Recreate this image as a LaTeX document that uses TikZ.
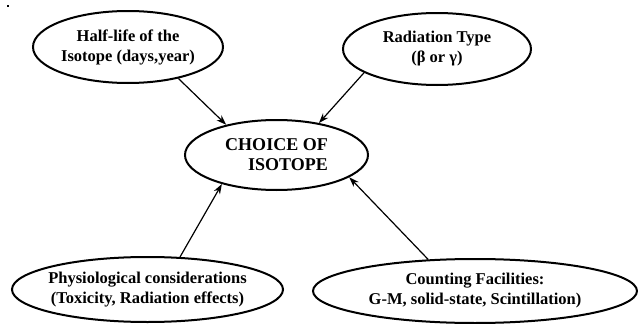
\documentclass[tikz,border=0pt]{standalone}
\usepackage{fontspec}
\setmainfont{Liberation Serif}
\usetikzlibrary{shapes.geometric,arrows.meta}
\tikzset{
	factor/.style={ellipse, draw, line width=2pt, inner sep=0pt, align=center, font=\fontsize{16.5}{20}\selectfont\bfseries},
	link/.style={-{Stealth[length=10pt,width=7pt]}, line width=1.2pt}
}
\begin{document}
\begin{tikzpicture}[x=1pt,y=-1pt]
	\useasboundingbox (0,0) rectangle (638,324);
	\fill (7,5) rectangle (9,7);
	\node[factor, minimum width=190pt, minimum height=72pt] (half) at (128,47) {Half-life of the\\Isotope (days,year)};
	\node[factor, minimum width=188pt, minimum height=72pt] (rad) at (437,49) {Radiation Type\\(β or γ)};
	\node[factor, minimum width=183pt, minimum height=70pt, align=right, font=\fontsize{18}{20}\selectfont\bfseries] (choice) at (276.5,155) {CHOICE OF\\ISOTOPE};
	\node[factor, minimum width=271pt, minimum height=65pt, inner xsep=-5pt] (phys) at (147.5,289.5) {Physiological considerations\\(Toxicity, Radiation effects)};
	\node[factor, minimum width=324pt, minimum height=64pt] (count) at (475,291) {Counting Facilities:\\G-M, solid-state, Scintillation)};
	\draw[link] (half.-32.5) -- (choice.149.6);
	\draw[link] (rad.198) -- (choice.37.4);
	\draw[link] (phys.45) -- (choice.208.5);
	\draw[link] (count.146.6) -- (choice.-17.5);
\end{tikzpicture}
\end{document}
